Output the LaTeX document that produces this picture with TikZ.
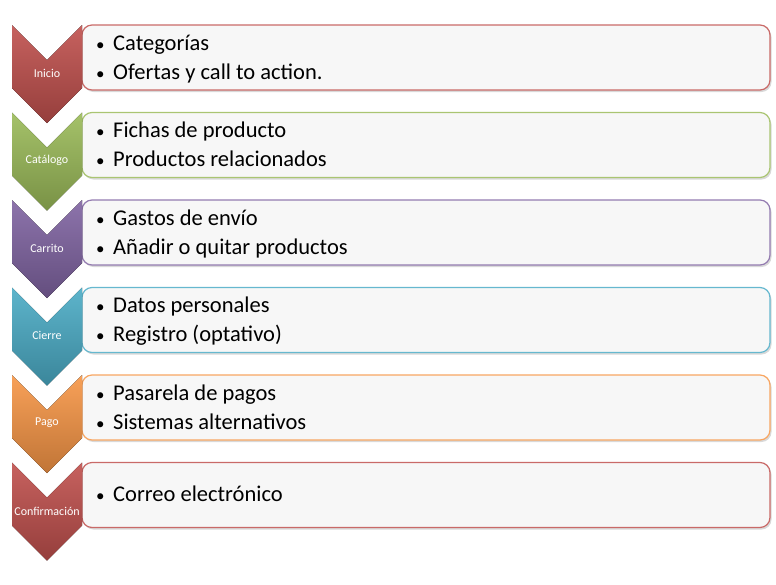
\documentclass[tikz,border=0pt]{standalone}
\usepackage{fontspec}
\setmainfont{Carlito}
\usetikzlibrary{shadows}
\definecolor{rojo}{HTML}{C0504D}
\definecolor{verde}{HTML}{9BBB59}
\definecolor{morado}{HTML}{8064A2}
\definecolor{turquesa}{HTML}{4BACC6}
\definecolor{naranja}{HTML}{F79646}
\newcommand{\vineta}{\makebox[17pt][l]{\fontsize{17}{17}\selectfont\textbullet}}
\begin{document}
\begin{tikzpicture}[x=1pt,y=-1pt]
\tikzset{
  caja/.style={draw=#1!85!white, line width=1.2pt, rounded corners=10pt, fill=black!3,
    drop shadow={opacity=.3, shadow xshift=1.5pt, shadow yshift=-2pt}},
  flecha/.style={top color=#1!90!white, bottom color=#1!78!black, draw=none},
  etiqueta/.style={text=white, inner sep=0pt, font=\fontsize{12}{14}\selectfont},
  punto/.style={anchor=base west, inner sep=0pt, font=\fontsize{22.5}{27}\selectfont}
}
\useasboundingbox (0,0) rectangle (776,584);
% filas: indice/nombre/color/primera linea/segunda linea
\foreach \i/\nombre/\col/\uno/\dos in {
  0/Inicio/rojo/Categorías/Ofertas y call to action.,
  1/Catálogo/verde/Fichas de producto/Productos relacionados,
  2/Carrito/morado/Gastos de envío/Añadir o quitar productos,
  3/Cierre/turquesa/Datos personales/Registro (optativo),
  4/Pago/naranja/Pasarela de pagos/Sistemas alternativos} {
  \pgfmathsetmacro{\y}{25+87.5*\i}
  \draw [caja=\col] (82,\y) rectangle (770,\y+65);
  \fill [flecha=\col] (12,\y) -- (47,\y+35) -- (82,\y) -- (82,\y+63) -- (47,\y+98) -- (12,\y+63) -- cycle;
  \node [etiqueta] (paso\i) at (47,\y+48) {\nombre};
  \node [punto] (uno\i) at (96,\y+25) {\vineta\uno};
  \node [punto] (dos\i) at (96,\y+54) {\vineta\dos};
}
% ultima fila, una sola linea
\draw [caja=rojo] (82,462.5) rectangle (770,527.5);
\fill [flecha=rojo] (12,462.5) -- (47,497.5) -- (82,462.5) -- (82,525.5) -- (47,560.5) -- (12,525.5) -- cycle;
\node [etiqueta] (paso5) at (47,511) {Confirmación};
\node [punto] (uno5) at (96,501) {\vineta Correo electrónico};
\end{tikzpicture}
\end{document}
